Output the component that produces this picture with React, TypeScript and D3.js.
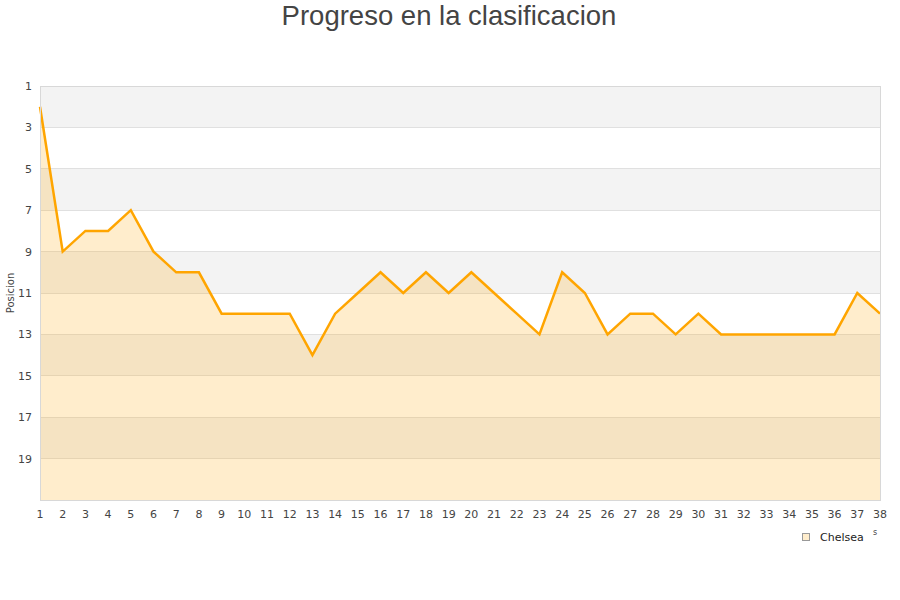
import { useEffect, useRef } from 'react';
import * as d3 from 'd3';

const title = 'Progreso en la clasificacion';
const seriesName = 'Chelsea';
const yLabel = 'Posicion';
const jornadas = d3.range(1, 39);
const posiciones = [2, 9, 8, 8, 7, 9, 10, 10, 12, 12, 12, 12, 14, 12, 11, 10, 11, 10, 11, 10, 11, 12, 13, 10, 11, 13, 12, 12, 13, 12, 13, 13, 13, 13, 13, 13, 11, 12];
const yTicks = [1, 3, 5, 7, 9, 11, 13, 15, 17, 19];

export default function App() {
  const svgRef = useRef<SVGSVGElement>(null);

  useEffect(() => {
    if (!svgRef.current) return;
    const root = d3.select(svgRef.current);
    root.selectAll('*').remove();

    const margin = { top: 86, right: 20, bottom: 100, left: 40 };
    const width = 900 - margin.left - margin.right;
    const height = 600 - margin.top - margin.bottom;

    const x = d3.scaleLinear().domain([1, 38]).range([0, width]);
    const y = d3.scaleLinear().domain([1, 21]).range([0, height]);

    // Title
    root.append('text')
      .attr('x', 449)
      .attr('y', 25)
      .attr('text-anchor', 'middle')
      .style('font-family', '"Liberation Sans", Arial, sans-serif')
      .style('font-size', '27.5px')
      .attr('fill', '#444')
      .text(title);

    const g = root.append('g').attr('transform', `translate(${margin.left},${margin.top})`);

    // alternating bands
    yTicks.forEach((t, i) => {
      g.append('rect')
        .attr('x', 0)
        .attr('y', y(t))
        .attr('width', width)
        .attr('height', y(t + 2) - y(t))
        .attr('fill', i % 2 === 0 ? '#f3f3f3' : '#ffffff');
    });

    // grid lines
    yTicks.slice(1).forEach(t => {
      g.append('line')
        .attr('x1', 0).attr('x2', width)
        .attr('y1', y(t)).attr('y2', y(t))
        .attr('stroke', '#e0e0e0')
        .attr('stroke-width', 1)
        .attr('shape-rendering', 'crispEdges');
    });

    const data = jornadas.map((j, i) => ({ x: j, y: posiciones[i] }));

    const area = d3.area<{ x: number; y: number }>()
      .x(d => x(d.x))
      .y0(height)
      .y1(d => y(d.y));

    const line = d3.line<{ x: number; y: number }>()
      .x(d => x(d.x))
      .y(d => y(d.y));

    g.append('path')
      .datum(data)
      .attr('fill', 'rgba(255, 165, 0, 0.2)')
      .attr('d', area);

    g.append('path')
      .datum(data)
      .attr('fill', 'none')
      .attr('stroke', '#ffa500')
      .attr('stroke-width', 2.5)
      .attr('stroke-linejoin', 'miter')
      .attr('d', line);

    // frame
    g.append('rect')
      .attr('x', 0).attr('y', 0)
      .attr('width', width).attr('height', height)
      .attr('fill', 'none')
      .attr('stroke', '#d8d8d8')
      .attr('shape-rendering', 'crispEdges');

    const font = '"DejaVu Sans", sans-serif';

    // y ticks
    yTicks.forEach(t => {
      g.append('text')
        .attr('x', -8)
        .attr('y', y(t) + 4)
        .attr('text-anchor', 'end')
        .style('font-family', font)
        .style('font-size', '11px')
        .attr('fill', '#444')
        .text(t);
    });

    // x ticks
    jornadas.forEach(j => {
      g.append('text')
        .attr('x', x(j))
        .attr('y', height + 18)
        .attr('text-anchor', 'middle')
        .style('font-family', font)
        .style('font-size', '11px')
        .attr('fill', '#444')
        .text(j);
    });

    // y label
    g.append('text')
      .attr('transform', `translate(${-26},${height / 2}) rotate(-90)`)
      .attr('text-anchor', 'middle')
      .style('font-family', font)
      .style('font-size', '10px')
      .attr('fill', '#444')
      .text(yLabel);

    // clipped x axis title remnant
    root.append('text')
      .attr('x', 875)
      .attr('y', 535)
      .attr('text-anchor', 'middle')
      .style('font-family', font)
      .style('font-size', '8px')
      .attr('fill', '#444')
      .text('s');

    // legend
    root.append('rect')
      .attr('x', 802.5).attr('y', 533.5)
      .attr('width', 7).attr('height', 7)
      .attr('fill', '#ffedcc')
      .attr('stroke', '#999');
    root.append('text')
      .attr('x', 820)
      .attr('y', 541)
      .style('font-family', font)
      .style('font-size', '11px')
      .attr('fill', '#222')
      .text(seriesName);
  }, []);

  return (
    <div style={{ position: 'absolute', left: 0, top: 0 }}>
      <svg ref={svgRef} width={900} height={600}></svg>
    </div>
  );
}
